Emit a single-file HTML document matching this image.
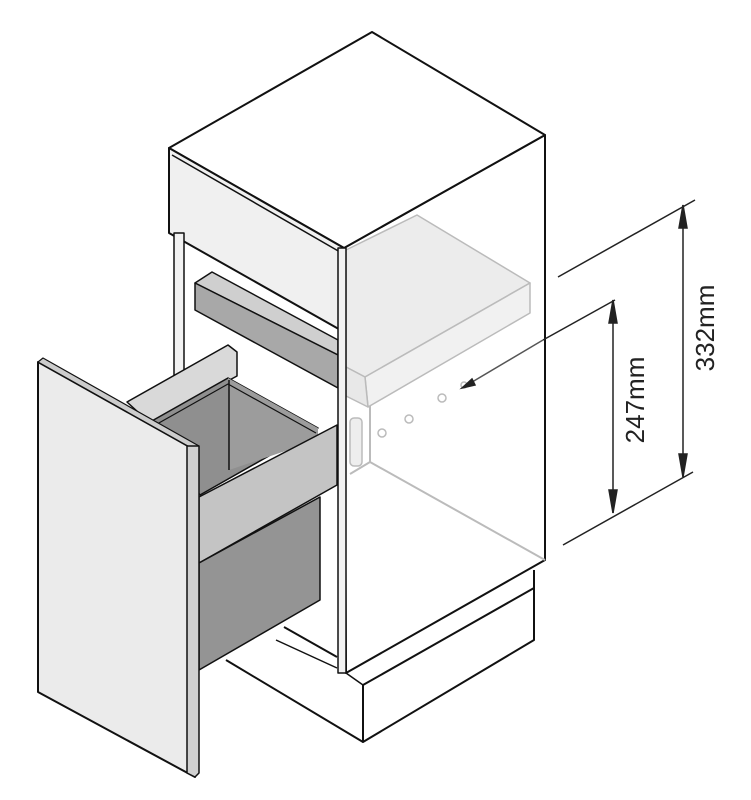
<!DOCTYPE html>
<html><head><meta charset="utf-8"><style>html,body{margin:0;padding:0;background:#fff}svg{display:block}</style></head>
<body>
<svg width="751" height="800" viewBox="0 0 751 800" xmlns="http://www.w3.org/2000/svg" font-family="Liberation Sans, sans-serif">
<g stroke-linejoin="round">
<!-- plinth -->
<line x1="226" y1="660" x2="363" y2="742" stroke="#111" stroke-width="2"/>
<polygon points="363,685 534,588 534,640 363,742" fill="#fff" stroke="#111" stroke-width="2"/>
<line x1="534" y1="570" x2="534" y2="640" stroke="#111" stroke-width="2"/>
<line x1="346" y1="673" x2="363" y2="685" stroke="#111" stroke-width="1.5"/>
<line x1="284" y1="627" x2="337" y2="657" stroke="#111" stroke-width="2"/>
<line x1="276" y1="640" x2="337" y2="668" stroke="#111" stroke-width="1.5"/>
<!-- cabinet right side -->
<polygon points="344,248 545,135 545,560 346,673" fill="#fff" stroke="#111" stroke-width="2"/>
<!-- inner lines -->
<line x1="370" y1="405" x2="370" y2="462" stroke="#bbb" stroke-width="2"/>
<line x1="370" y1="462" x2="545" y2="560" stroke="#bbb" stroke-width="2"/>
<line x1="350" y1="474" x2="370" y2="462" stroke="#bbb" stroke-width="2"/>
<!-- shelf -->
<polygon points="346,250 417,215 530,283 365,377 346,367" fill="#ececec" stroke="#bbb" stroke-width="1.5"/>
<polygon points="365,377 530,283 530,313 368,407" fill="#f1f1f1" stroke="#bbb" stroke-width="1.5"/>
<polygon points="346,367 365,377 368,407 346,396" fill="#e8e8e8" stroke="#bbb" stroke-width="1.5"/>
<rect x="350" y="418" width="12" height="48" rx="4" fill="#eee" stroke="#bbb" stroke-width="1.5"/>
<circle cx="382" cy="433" r="4" fill="none" stroke="#bbb" stroke-width="1.5"/>
<circle cx="409" cy="419" r="4" fill="none" stroke="#bbb" stroke-width="1.5"/>
<circle cx="442" cy="398" r="4" fill="none" stroke="#bbb" stroke-width="1.5"/>
<circle cx="464" cy="385" r="3" fill="none" stroke="#bbb" stroke-width="1.5"/>
<!-- top -->
<polygon points="372,32 545,135 344,248 169,148" fill="#fff" stroke="#111" stroke-width="2"/>
<!-- top front rail -->
<polygon points="169,148 344,248 344,332 169,233" fill="#f0f0f0" stroke="#111" stroke-width="2"/>
<line x1="172" y1="155" x2="340" y2="252" stroke="#111" stroke-width="1.5"/>
<!-- left stile -->
<rect x="174" y="233" width="10" height="440" fill="#f2f2f2" stroke="#111" stroke-width="1.5"/>
<!-- gray rail under top -->
<polygon points="195,283 212,272 338,340 338,355" fill="#cfcfcf" stroke="#111" stroke-width="1.5"/>
<polygon points="195,283 338,355 338,388 195,310" fill="#a8a8a8" stroke="#111" stroke-width="1.5"/>
<!-- front stile -->
<rect x="338" y="248" width="8" height="425" fill="#f2f2f2" stroke="#111" stroke-width="1.5"/>
<!-- drawer side -->
<polygon points="127,402 228,345 237,352 237,376 150,423" fill="#d9d9d9" stroke="#111" stroke-width="1.5"/>
<!-- bin inner -->
<polygon points="150,422 228,378 318,428 200,495" fill="#8f8f8f" stroke="#111" stroke-width="1.5"/>
<polygon points="228,378 318,428 318,440 229,470" fill="#9c9c9c" stroke="none"/>
<line x1="229" y1="380" x2="229" y2="470" stroke="#111" stroke-width="1.5"/>
<polyline points="150,428 228,384 316,433" fill="none" stroke="#111" stroke-width="1.2"/>
<!-- front rail -->
<polygon points="199,497 337,425 337,485 199,563" fill="#c4c4c4" stroke="#111" stroke-width="1.5"/>
<!-- bin body -->
<polygon points="199,563 320,497 320,600 199,670" fill="#949494" stroke="#111" stroke-width="1.5"/>
<!-- drawer front panel -->
<polygon points="38,362 195,450 195,777 38,692" fill="#ebebeb" stroke="#111" stroke-width="2"/>
<polygon points="38,362 43,358 199,446 195,450" fill="#ccc" stroke="#111" stroke-width="1.2"/>
<polygon points="187,446 199,446 199,773 195,777 187,773" fill="#d0d0d0" stroke="#111" stroke-width="1.5"/>
</g>
<!-- dimensions -->
<g stroke="#222" stroke-width="1.5" fill="#222">
<line x1="558" y1="277" x2="695" y2="200"/>
<line x1="563" y1="545" x2="693" y2="472"/>
<line x1="683" y1="205" x2="683" y2="477"/>
<polygon points="683,205 679,228 687,228"/>
<polygon points="683,477 679,454 687,454"/>
<line x1="543" y1="340" x2="615" y2="300"/>
<line x1="543" y1="340" x2="462" y2="388" stroke="#555"/>
<polygon points="462,388 472,379 475,385"/>
<line x1="613" y1="300" x2="613" y2="513"/>
<polygon points="613,300 609,323 617,323"/>
<polygon points="613,513 609,490 617,490"/>
</g>
<text x="0" y="0" font-size="26" fill="#222" text-anchor="middle" transform="translate(714,328) rotate(-90)">332mm</text>
<text x="0" y="0" font-size="26" fill="#222" text-anchor="middle" transform="translate(644,400) rotate(-90)">247mm</text>
</svg>
</body></html>
